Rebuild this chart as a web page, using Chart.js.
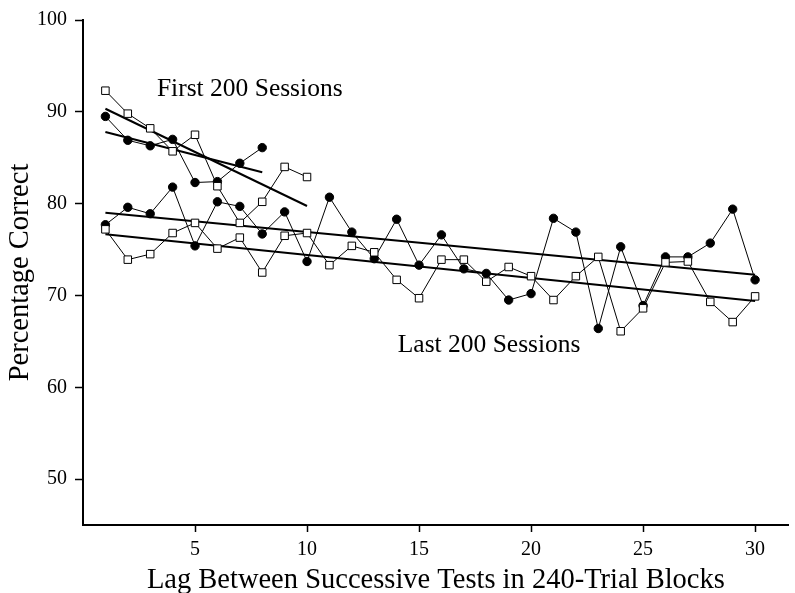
<!DOCTYPE html>
<html>
<head>
<meta charset="utf-8">
<script src="https://cdn.jsdelivr.net/npm/chart.js@4"></script>
<style>
  html, body { margin: 0; padding: 0; background: #fff; }
  canvas { display: block; }
</style>
</head>
<body>
<canvas id="c" width="795" height="593"></canvas>
<script>
// ---- data ----
const lags = [1,2,3,4,5,6,7,8,9,10,11,12,13,14,15,16,17,18,19,20,21,22,23,24,25,26,27,28,29,30];
const first200Circles = [89.5, 86.9, 86.3, 87.0, 82.3, 82.4, 84.4, 86.1];
const first200Squares = [92.3, 89.8, 88.2, 85.7, 87.5, 81.9, 77.9, 80.2, 84.0, 82.9];
const last200Circles = [77.7, 79.6, 78.9, 81.8, 75.4, 80.2, 79.7, 76.7, 79.1, 73.7,
                        80.7, 76.9, 74.0, 78.3, 73.3, 76.6, 72.9, 72.4, 69.5, 70.2,
                        78.4, 76.9, 66.4, 75.3, 68.9, 74.2, 74.2, 75.7, 79.4, 71.7];
const last200Squares = [77.2, 73.9, 74.5, 76.8, 77.9, 75.1, 76.3, 72.5, 76.5, 76.8,
                        73.3, 75.4, 74.7, 71.7, 69.7, 73.9, 73.9, 71.5, 73.1, 72.1,
                        69.5, 72.1, 74.2, 66.1, 68.6, 73.6, 73.7, 69.3, 67.1, 69.9];
const xTickValues = [5, 10, 15, 20, 25, 30];
const yTickValues = [50, 60, 70, 80, 90, 100];
const xTitle = 'Lag Between Successive Tests in 240-Trial Blocks';
const yTitle = 'Percentage Correct';
const firstLabel = 'First 200 Sessions';
const lastLabel = 'Last 200 Sessions';

// ---- helpers ----
function points(vals) { return vals.map((v, i) => ({ x: lags[i], y: v })); }
function fitLine(vals) {
  const xs = lags.slice(0, vals.length);
  const n = vals.length;
  const mx = xs.reduce((a, b) => a + b, 0) / n;
  const my = vals.reduce((a, b) => a + b, 0) / n;
  let sxy = 0, sxx = 0;
  for (let i = 0; i < n; i++) { sxy += (xs[i] - mx) * (vals[i] - my); sxx += (xs[i] - mx) ** 2; }
  const b = sxy / sxx, a = my - b * mx;
  return [{ x: xs[0], y: a + b * xs[0] }, { x: xs[n - 1], y: a + b * xs[n - 1] }];
}

const FONT = "'Liberation Serif', 'Times New Roman', serif";

function seriesCircle(vals) {
  return { data: points(vals), showLine: true, borderColor: '#000', borderWidth: 1,
           pointStyle: 'circle', pointRadius: 4.2, pointBackgroundColor: '#000',
           pointBorderColor: '#000', pointBorderWidth: 1, order: 1 };
}
function seriesSquare(vals) {
  return { data: points(vals), showLine: true, borderColor: '#000', borderWidth: 1,
           pointStyle: 'rect', pointRadius: 5.3, pointBackgroundColor: '#fff',
           pointBorderColor: '#000', pointBorderWidth: 1, order: 0 };
}
function seriesFit(vals) {
  return { data: fitLine(vals), showLine: true, borderColor: '#000', borderWidth: 2,
           pointRadius: 0, order: 2 };
}

const annot = {
  id: 'annot',
  afterDatasetsDraw(chart) {
    const { ctx, scales: { x, y } } = chart;
    ctx.save();
    ctx.fillStyle = '#000';
    ctx.font = '25.5px ' + FONT;
    ctx.textAlign = 'left';
    ctx.textBaseline = 'alphabetic';
    ctx.fillText(firstLabel, x.getPixelForValue(3.3), y.getPixelForValue(91.75));
    ctx.fillText(lastLabel, x.getPixelForValue(14.05), y.getPixelForValue(63.8));
    ctx.restore();
  }
};

new Chart(document.getElementById('c'), {
  type: 'scatter',
  data: {
    datasets: [
      seriesFit(first200Circles), seriesFit(first200Squares),
      seriesFit(last200Circles), seriesFit(last200Squares),
      seriesCircle(first200Circles), seriesCircle(last200Circles),
      seriesSquare(first200Squares), seriesSquare(last200Squares)
    ]
  },
  options: {
    responsive: false,
    animation: false,
    devicePixelRatio: 1,
    layout: { padding: { left: 0, right: 2, top: 20, bottom: 0 } },
    plugins: { legend: { display: false }, tooltip: { enabled: false } },
    scales: {
      x: {
        type: 'linear', min: 0, max: 31.5,
        afterBuildTicks: s => { s.ticks = xTickValues.map(v => ({ value: v })); },
        afterFit: s => { s.height = 68; },
        border: { display: true, color: '#000', width: 2 },
        grid: { display: true, drawOnChartArea: false, drawTicks: true, tickLength: 7, tickWidth: 1.5, tickColor: '#000' },
        ticks: { color: '#000', font: { family: FONT, size: 20 }, padding: 6, maxRotation: 0, autoSkip: false },
        title: { display: true, text: xTitle, color: '#000', font: { family: FONT, size: 28.5, lineHeight: 0.88 }, padding: { top: 0, bottom: 0 } }
      },
      y: {
        type: 'linear', min: 45, max: 100,
        afterBuildTicks: s => { s.ticks = yTickValues.map(v => ({ value: v })); },
        afterFit: s => { s.width = 83; },
        border: { display: true, color: '#000', width: 2 },
        grid: { display: true, drawOnChartArea: false, drawTicks: true, tickLength: 8, tickWidth: 1.5, tickColor: '#000' },
        ticks: { color: '#000', font: { family: FONT, size: 20 }, padding: 8, autoSkip: false },
        title: { display: true, text: yTitle, color: '#000', font: { family: FONT, size: 28.5, lineHeight: 1 }, padding: { top: 6, bottom: 0 } }
      }
    }
  },
  plugins: [annot]
});
</script>
</body>
</html>
